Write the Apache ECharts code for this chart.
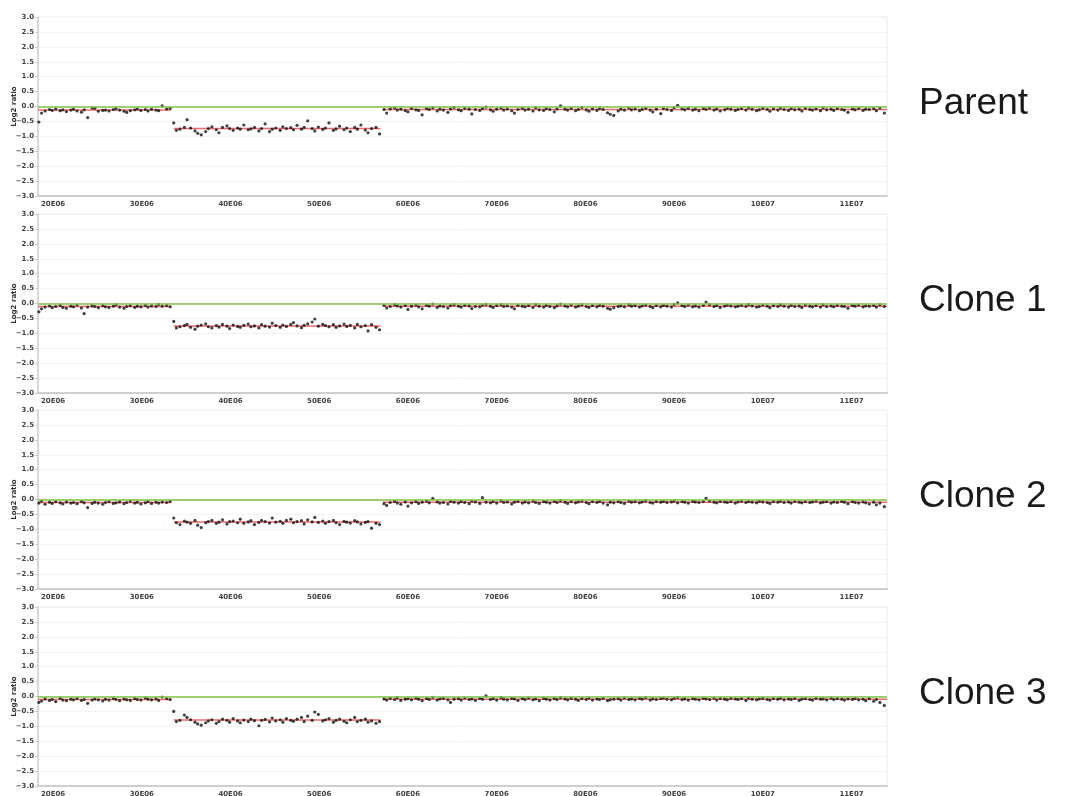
<!DOCTYPE html>
<html>
<head>
<meta charset="utf-8">
<script src="https://cdn.jsdelivr.net/npm/echarts@6/dist/echarts.min.js"></script>
<style>
html,body{margin:0;padding:0;background:#fff;}
#chart{width:1068px;height:796px;}
</style>
</head>
<body>
<div id="chart"></div>
<script>
// ---------- DATA ----------
const panelNames = ['Parent', 'Clone 1', 'Clone 2', 'Clone 3'];
const xTicks = [20, 30, 40, 50, 60, 70, 80, 90, 100, 110]; // Mb

// probe positions (Mb), three copy-number segments
const pos1 = [18.4, 18.7, 19.1, 19.6, 19.9, 20.3, 20.8, 21.1, 21.5, 22.0, 22.3, 22.7, 23.2, 23.5, 23.9, 24.4, 24.7, 25.1, 25.6, 25.9, 26.3, 26.8, 27.1, 27.5, 28.0, 28.3, 28.7, 29.2, 29.5, 29.9, 30.4, 30.7, 31.1, 31.6, 31.9, 32.3, 32.8, 33.2];
const pos2 = [33.6, 33.9, 34.3, 34.8, 35.1, 35.5, 36.0, 36.3, 36.7, 37.2, 37.5, 37.9, 38.4, 38.7, 39.1, 39.6, 39.9, 40.3, 40.8, 41.1, 41.5, 42.0, 42.3, 42.7, 43.2, 43.5, 43.9, 44.4, 44.7, 45.1, 45.6, 45.9, 46.3, 46.8, 47.1, 47.5, 48.0, 48.3, 48.7, 49.2, 49.5, 49.9, 50.4, 50.7, 51.1, 51.6, 51.9, 52.3, 52.8, 53.1, 53.5, 54.0, 54.3, 54.7, 55.2, 55.5, 55.9, 56.4, 56.8];
const pos3 = [57.3, 57.6, 58.0, 58.5, 58.8, 59.2, 59.7, 60.0, 60.4, 60.9, 61.2, 61.6, 62.1, 62.4, 62.8, 63.3, 63.6, 64.0, 64.5, 64.8, 65.2, 65.7, 66.0, 66.4, 66.9, 67.2, 67.6, 68.1, 68.4, 68.8, 69.3, 69.6, 70.0, 70.5, 70.8, 71.2, 71.7, 72.0, 72.4, 72.9, 73.2, 73.6, 74.1, 74.4, 74.8, 75.3, 75.6, 76.0, 76.5, 76.8, 77.2, 77.7, 78.0, 78.4, 78.9, 79.2, 79.6, 80.1, 80.4, 80.8, 81.3, 81.6, 82.0, 82.5, 82.8, 83.2, 83.7, 84.0, 84.4, 84.9, 85.2, 85.6, 86.1, 86.4, 86.8, 87.3, 87.6, 88.0, 88.5, 88.8, 89.2, 89.7, 90.0, 90.4, 90.9, 91.2, 91.6, 92.1, 92.4, 92.8, 93.3, 93.6, 94.0, 94.5, 94.8, 95.2, 95.7, 96.0, 96.4, 96.9, 97.2, 97.6, 98.1, 98.4, 98.8, 99.3, 99.6, 100.0, 100.5, 100.8, 101.2, 101.7, 102.0, 102.4, 102.9, 103.2, 103.6, 104.1, 104.4, 104.8, 105.3, 105.6, 106.0, 106.5, 106.8, 107.2, 107.7, 108.0, 108.4, 108.9, 109.2, 109.6, 110.1, 110.4, 110.8, 111.3, 111.6, 112.0, 112.5, 112.8, 113.2, 113.7];

// segment breakpoints (Mb)
const segStarts = [18.3, 33.6, 57.2];
const segEnds = [33.3, 56.9, 114.0];

// Parent
const parentSeg1 = [-0.52, -0.22, -0.15, -0.10, -0.13, -0.08, -0.14, -0.11, -0.17, -0.12, -0.09, -0.15, -0.19, -0.11, -0.37, -0.05, -0.06, -0.16, -0.13, -0.12, -0.15, -0.10, -0.07, -0.12, -0.16, -0.20, -0.14, -0.11, -0.08, -0.13, -0.10, -0.15, -0.09, -0.12, -0.14, 0.02, -0.08, -0.06];
const parentSeg2 = [-0.55, -0.80, -0.76, -0.70, -0.44, -0.72, -0.82, -0.90, -0.95, -0.84, -0.74, -0.68, -0.78, -0.88, -0.70, -0.65, -0.74, -0.80, -0.72, -0.76, -0.62, -0.78, -0.75, -0.70, -0.82, -0.74, -0.58, -0.84, -0.76, -0.72, -0.80, -0.68, -0.74, -0.71, -0.78, -0.63, -0.76, -0.70, -0.48, -0.74, -0.82, -0.69, -0.77, -0.72, -0.55, -0.80, -0.75, -0.66, -0.78, -0.72, -0.84, -0.70, -0.76, -0.62, -0.79, -0.88, -0.74, -0.70, -0.92];
const parentSeg3 = [-0.10, -0.22, -0.08, -0.05, -0.12, -0.09, -0.14, -0.18, -0.06, -0.11, -0.13, -0.28, -0.07, -0.10, -0.04, -0.15, -0.09, -0.12, -0.20, -0.08, -0.03, -0.11, -0.14, -0.06, -0.09, -0.25, -0.10, -0.13, -0.07, -0.02, -0.11, -0.16, -0.09, -0.05, -0.12, -0.08, -0.14, -0.22, -0.10, -0.06, -0.12, -0.09, -0.15, -0.04, -0.11, -0.13, -0.07, -0.10, -0.18, -0.08, 0.02, -0.09, -0.12, -0.06, -0.14, -0.10, -0.03, -0.11, -0.16, -0.08, -0.13, -0.07, -0.10, -0.21, -0.26, -0.30, -0.15, -0.09, -0.12, -0.05, -0.11, -0.08, -0.14, -0.10, -0.06, -0.12, -0.18, -0.09, -0.24, -0.07, -0.10, -0.13, -0.04, 0.04, -0.08, -0.11, -0.06, -0.12, -0.09, -0.14, -0.07, -0.10, -0.05, -0.12, -0.08, -0.15, -0.11, -0.06, -0.09, -0.13, -0.10, -0.07, -0.12, -0.04, -0.09, -0.14, -0.11, -0.06, -0.10, -0.16, -0.08, -0.12, -0.05, -0.10, -0.13, -0.07, -0.11, -0.09, -0.15, -0.06, -0.10, -0.12, -0.08, -0.14, -0.05, -0.11, -0.09, -0.13, -0.07, -0.10, -0.12, -0.20, -0.08, -0.11, -0.06, -0.13, -0.09, -0.10, -0.07, -0.14, -0.05, -0.22];
const parentMeans = [-0.12, -0.74, -0.10];

// Clone 1
const clone1Seg1 = [-0.28, -0.18, -0.12, -0.08, -0.14, -0.10, -0.06, -0.13, -0.16, -0.09, -0.11, -0.05, -0.15, -0.34, -0.12, -0.08, -0.10, -0.14, -0.07, -0.11, -0.13, -0.09, -0.04, -0.12, -0.16, -0.10, -0.07, -0.13, -0.09, -0.11, -0.06, -0.12, -0.08, -0.10, -0.03, -0.09, -0.07, -0.11];
const clone1Seg2 = [-0.60, -0.82, -0.78, -0.74, -0.70, -0.80, -0.86, -0.76, -0.72, -0.68, -0.78, -0.82, -0.74, -0.79, -0.70, -0.76, -0.84, -0.72, -0.77, -0.80, -0.73, -0.69, -0.78, -0.75, -0.82, -0.71, -0.76, -0.79, -0.66, -0.74, -0.80, -0.72, -0.77, -0.70, -0.64, -0.75, -0.81, -0.73, -0.68, -0.62, -0.52, -0.76, -0.70, -0.74, -0.78, -0.71, -0.80, -0.75, -0.69, -0.77, -0.73, -0.82, -0.70, -0.78, -0.74, -0.92, -0.71, -0.80, -0.88];
const clone1Seg3 = [-0.06, -0.15, -0.10, -0.04, -0.08, -0.12, -0.07, -0.20, -0.09, -0.05, -0.11, -0.18, -0.06, -0.09, -0.02, -0.13, -0.08, -0.10, -0.15, -0.07, -0.04, -0.09, -0.12, -0.06, -0.08, -0.17, -0.10, -0.11, -0.05, -0.03, -0.09, -0.13, -0.07, -0.04, -0.10, -0.08, -0.12, -0.18, -0.06, -0.09, -0.11, -0.07, -0.13, -0.03, -0.09, -0.12, -0.06, -0.10, -0.14, -0.08, -0.02, -0.08, -0.11, -0.05, -0.12, -0.09, -0.04, -0.10, -0.13, -0.07, -0.11, -0.06, -0.09, -0.16, -0.19, -0.14, -0.10, -0.08, -0.11, -0.04, -0.09, -0.07, -0.12, -0.08, -0.05, -0.10, -0.14, -0.07, -0.11, -0.06, -0.09, -0.12, -0.03, 0.02, -0.07, -0.10, -0.05, -0.11, -0.08, -0.12, -0.06, 0.05, -0.04, -0.10, -0.07, -0.13, -0.09, -0.05, -0.08, -0.11, -0.09, -0.06, -0.10, -0.03, -0.08, -0.12, -0.10, -0.05, -0.09, -0.14, -0.07, -0.10, -0.04, -0.09, -0.12, -0.06, -0.10, -0.08, -0.13, -0.05, -0.09, -0.11, -0.07, -0.12, -0.04, -0.10, -0.08, -0.11, -0.06, -0.09, -0.10, -0.16, -0.07, -0.09, -0.05, -0.11, -0.08, -0.09, -0.06, -0.12, -0.04, -0.10];
const clone1Means = [-0.10, -0.75, -0.09];

// Clone 2
const clone2Seg1 = [-0.12, -0.05, -0.16, -0.09, -0.13, -0.07, -0.11, -0.15, -0.08, -0.12, -0.10, -0.14, -0.06, -0.11, -0.27, -0.13, -0.09, -0.12, -0.16, -0.10, -0.07, -0.13, -0.11, -0.08, -0.14, -0.10, -0.05, -0.12, -0.09, -0.15, -0.11, -0.07, -0.13, -0.09, -0.12, -0.08, -0.10, -0.06];
const clone2Seg2 = [-0.62, -0.78, -0.84, -0.72, -0.76, -0.80, -0.70, -0.86, -0.94, -0.78, -0.74, -0.70, -0.80, -0.76, -0.68, -0.82, -0.74, -0.72, -0.78, -0.66, -0.80, -0.75, -0.71, -0.84, -0.77, -0.70, -0.74, -0.79, -0.62, -0.76, -0.73, -0.80, -0.70, -0.66, -0.78, -0.74, -0.71, -0.82, -0.68, -0.75, -0.60, -0.77, -0.72, -0.80, -0.74, -0.70, -0.78, -0.84, -0.73, -0.76, -0.79, -0.71, -0.75, -0.82, -0.77, -0.74, -0.96, -0.80, -0.84];
const clone2Seg3 = [-0.14, -0.20, -0.10, -0.06, -0.12, -0.16, -0.08, -0.22, -0.11, -0.07, -0.13, -0.09, -0.05, -0.11, 0.04, -0.08, -0.12, -0.10, -0.15, -0.06, -0.09, -0.12, -0.07, -0.10, -0.14, -0.05, -0.08, -0.13, 0.06, -0.09, -0.11, -0.07, -0.12, -0.04, -0.10, -0.08, -0.15, -0.09, -0.06, -0.12, -0.08, -0.11, -0.05, -0.10, -0.13, -0.07, -0.09, -0.12, -0.06, -0.10, -0.04, -0.09, -0.13, -0.07, -0.11, -0.08, -0.05, -0.10, -0.14, -0.07, -0.10, -0.06, -0.12, -0.18, -0.09, -0.11, -0.07, -0.10, -0.13, -0.05, -0.09, -0.07, -0.11, -0.08, -0.04, -0.10, -0.12, -0.07, -0.09, -0.06, -0.10, -0.08, -0.05, -0.11, -0.07, -0.09, -0.12, -0.06, -0.08, -0.10, -0.07, 0.04, -0.05, -0.09, -0.11, -0.06, -0.08, -0.10, -0.07, -0.12, -0.08, -0.05, -0.10, -0.07, -0.09, -0.11, -0.06, -0.08, -0.10, -0.13, -0.07, -0.09, -0.05, -0.10, -0.08, -0.12, -0.06, -0.09, -0.11, -0.07, -0.10, -0.08, -0.05, -0.11, -0.09, -0.07, -0.12, -0.08, -0.10, -0.06, -0.09, -0.14, -0.07, -0.10, -0.12, -0.08, -0.11, -0.15, -0.09, -0.18, -0.12, -0.24];
const clone2Means = [-0.10, -0.75, -0.09];

// Clone 3
const clone3Seg1 = [-0.20, -0.15, -0.08, -0.13, -0.10, -0.17, -0.06, -0.12, -0.14, -0.09, -0.11, -0.07, -0.13, -0.10, -0.23, -0.12, -0.08, -0.11, -0.15, -0.09, -0.12, -0.06, -0.10, -0.14, -0.08, -0.11, -0.13, -0.07, -0.10, -0.12, -0.05, -0.09, -0.11, -0.08, -0.13, -0.02, -0.07, -0.10];
const clone3Seg2 = [-0.50, -0.84, -0.80, -0.62, -0.70, -0.78, -0.86, -0.92, -0.96, -0.88, -0.82, -0.78, -0.90, -0.84, -0.76, -0.80, -0.86, -0.74, -0.82, -0.88, -0.79, -0.84, -0.76, -0.81, -0.98, -0.80, -0.77, -0.85, -0.72, -0.82, -0.78, -0.86, -0.74, -0.80, -0.83, -0.76, -0.70, -0.84, -0.66, -0.80, -0.52, -0.60, -0.82, -0.78, -0.74, -0.86, -0.80, -0.76, -0.83, -0.88, -0.78, -0.70, -0.84, -0.80, -0.76, -0.86, -0.82, -0.90, -0.84];
const clone3Seg3 = [-0.08, -0.12, -0.06, -0.10, -0.04, -0.13, -0.09, -0.07, -0.11, -0.05, -0.09, -0.14, -0.07, -0.10, -0.03, -0.12, -0.08, -0.06, -0.11, -0.20, -0.09, -0.07, -0.12, -0.05, -0.10, -0.08, -0.13, -0.06, -0.09, 0.02, -0.10, -0.07, -0.12, -0.04, -0.09, -0.11, -0.06, -0.08, -0.13, -0.07, -0.10, -0.05, -0.11, -0.08, -0.14, -0.06, -0.09, -0.12, -0.07, -0.10, -0.04, -0.08, -0.11, -0.06, -0.09, -0.13, -0.07, -0.10, -0.05, -0.12, -0.08, -0.10, -0.06, -0.14, -0.11, -0.09, -0.07, -0.12, -0.05, -0.10, -0.08, -0.11, -0.06, -0.09, -0.04, -0.12, -0.08, -0.10, -0.07, -0.05, -0.09, -0.11, -0.06, -0.03, -0.10, -0.08, -0.12, -0.07, -0.09, -0.11, -0.06, -0.08, -0.10, -0.05, -0.12, -0.07, -0.09, -0.11, -0.06, -0.08, -0.10, -0.07, -0.13, -0.05, -0.09, -0.11, -0.08, -0.06, -0.10, -0.12, -0.07, -0.09, -0.05, -0.11, -0.08, -0.10, -0.06, -0.13, -0.09, -0.07, -0.10, -0.12, -0.06, -0.09, -0.08, -0.11, -0.05, -0.10, -0.07, -0.09, -0.12, -0.08, -0.10, -0.06, -0.11, -0.09, -0.14, -0.07, -0.16, -0.10, -0.20, -0.30];
const clone3Means = [-0.10, -0.79, -0.09];

// ---------- BUILD ----------
const panelSegs = [
  [parentSeg1, parentSeg2, parentSeg3],
  [clone1Seg1, clone1Seg2, clone1Seg3],
  [clone2Seg1, clone2Seg2, clone2Seg3],
  [clone3Seg1, clone3Seg2, clone3Seg3]
];
const panelMeans = [parentMeans, clone1Means, clone2Means, clone3Means];
const positions = [pos1, pos2, pos3];

function zip(xs, ys) {
  const n = Math.min(xs.length, ys.length);
  const out = [];
  for (let i = 0; i < n; i++) out.push([xs[i], ys[i]]);
  return out;
}

const tops = [17, 214, 410, 607];
const PH = 179;
const font = 'DejaVu Sans';

const grids = [], xAxes = [], yAxes = [], series = [], graphics = [];

panelNames.forEach((name, i) => {
  grids.push({
    left: 38, right: 181, top: tops[i], height: PH,
    containLabel: false, outerBoundsMode: 'none',
    show: true, borderColor: '#ececec', borderWidth: 1, backgroundColor: 'transparent'
  });
  xAxes.push({
    type: 'value', gridIndex: i, min: 18.3, max: 114,
    axisLine: { show: true, onZero: false, lineStyle: { color: '#cfcfcf', width: 2 } },
    axisTick: { show: false, customValues: xTicks },
    splitLine: { show: false },
    axisLabel: {
      customValues: xTicks,
      margin: 5,
      fontFamily: font, fontSize: 7, fontWeight: 'bold', color: '#444',
      formatter: v => v < 100 ? (v + 'E06') : ((v / 10) + 'E07')
    }
  });
  yAxes.push({
    type: 'value', gridIndex: i, min: -3, max: 3, interval: 0.5,
    name: 'Log2 ratio', nameLocation: 'middle', nameGap: 20, nameMoveOverlap: false,
    nameTextStyle: { fontFamily: font, fontSize: 7, fontWeight: 'bold', color: '#333' },
    axisLine: { show: true, lineStyle: { color: '#cfcfcf', width: 1.5 } },
    axisTick: { show: true, length: 3, lineStyle: { color: '#cfcfcf' } },
    splitLine: { show: true, lineStyle: { color: '#f3f3f3', width: 1 } },
    axisLabel: {
      margin: 4,
      fontFamily: font, fontSize: 7, fontWeight: 'bold', color: '#444',
      formatter: v => (v < 0 ? '\u2212' : '') + Math.abs(v).toFixed(1)
    }
  });

  // segment mean lines (red)
  positions.forEach((p, s) => {
    series.push({
      type: 'line', xAxisIndex: i, yAxisIndex: i,
      data: [[segStarts[s], panelMeans[i][s]], [segEnds[s], panelMeans[i][s]]],
      symbol: 'none', silent: true, z: 2,
      lineStyle: { color: '#ee6a6a', width: 1.5 }
    });
  });

  // probe dots
  const pts = [];
  positions.forEach((p, s) => { zip(p, panelSegs[i][s]).forEach(d => pts.push(d)); });
  series.push({
    type: 'scatter', xAxisIndex: i, yAxisIndex: i,
    data: pts, symbolSize: 3.2, z: 3, silent: true,
    itemStyle: { color: '#111' },
    markLine: {
      silent: true, symbol: 'none', label: { show: false },
      lineStyle: { color: '#7dc242', width: 1.5, type: 'solid' },
      data: [{ yAxis: 0 }]
    }
  });

  graphics.push({
    type: 'text', left: 919, top: tops[i] + PH / 2 - 21,
    style: { text: name, font: '37px "Liberation Sans", Arial, sans-serif', fill: '#1a1a1a' }
  });
});

const chart = echarts.init(document.getElementById('chart'), null, { renderer: 'canvas' });
chart.setOption({
  animation: false,
  backgroundColor: '#fff',
  grid: grids,
  xAxis: xAxes,
  yAxis: yAxes,
  series: series,
  graphic: graphics
});
</script>
</body>
</html>
